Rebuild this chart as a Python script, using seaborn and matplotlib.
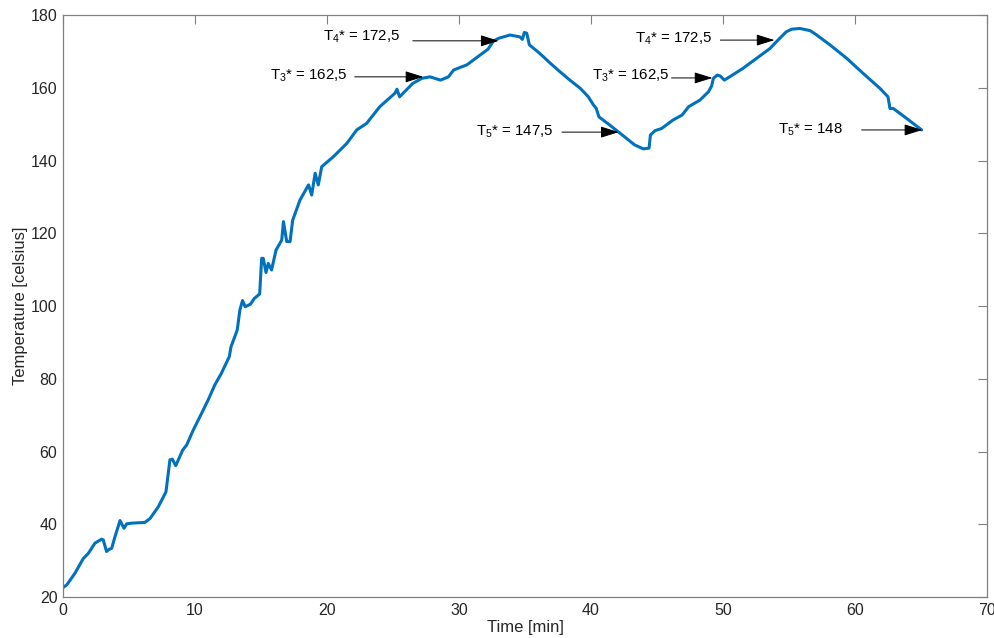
import matplotlib
matplotlib.use("Agg")
import matplotlib.pyplot as plt
import seaborn as sns
import pandas as pd

# ---- data ----
time_min = [0.0, 0.28, 0.9, 1.54, 1.92, 2.42, 2.93, 3.05, 3.3, 3.5, 3.69, 3.94, 4.32, 4.62,
            4.82, 5.2, 6.2, 6.6, 7.22, 7.8, 8.1, 8.28, 8.54, 9.07, 9.37, 9.87, 10.5, 11.0,
            11.5, 12.0, 12.6, 12.73, 13.2, 13.4, 13.6, 13.8, 14.2, 14.5, 14.9, 15.05, 15.17,
            15.38, 15.55, 15.8, 16.14, 16.57, 16.7, 16.95, 17.2, 17.4, 17.95, 18.6, 18.84,
            19.1, 19.34, 19.6, 20.5, 21.5, 22.25, 23.0, 24.0, 25.15, 25.3, 25.5, 26.5, 27.2,
            27.8, 28.6, 29.2, 29.6, 30.6, 31.6, 32.2, 32.6, 33.0, 33.86, 34.6, 34.8, 34.95,
            35.13, 35.33, 36.1, 36.9, 37.65, 38.4, 39.2, 39.8, 40.18, 40.4, 40.6, 41.4, 42.2,
            43.3, 43.96, 44.4, 44.5, 44.85, 45.35, 46.2, 46.9, 47.4, 48.25, 48.9, 49.14,
            49.27, 49.57, 49.8, 50.1, 50.5, 51.5, 52.55, 53.56, 54.3, 54.8, 55.2, 55.83,
            56.6, 57.1, 58.1, 59.37, 60.6, 61.9, 62.5, 62.65, 62.9, 63.9, 65.05]
temperature = [22.6, 23.3, 26.5, 30.6, 32.0, 34.8, 35.9, 35.7, 32.5, 33.1, 33.4, 36.6, 41.0,
               38.9, 40.1, 40.3, 40.5, 41.6, 44.8, 48.9, 57.7, 57.9, 56.1, 60.4, 61.8, 65.9,
               70.5, 74.2, 78.3, 81.5, 86.1, 88.8, 93.4, 98.9, 101.5, 99.8, 100.5, 102.1,
               103.3, 113.1, 113.1, 109.2, 111.7, 109.9, 115.4, 118.1, 123.2, 117.7, 117.7,
               123.6, 129.1, 133.3, 130.5, 136.5, 133.3, 138.3, 141.1, 144.7, 148.4, 150.2,
               154.8, 158.5, 159.6, 157.5, 161.2, 162.6, 163.0, 162.1, 163.0, 164.9, 166.3,
               169.0, 170.6, 172.8, 173.6, 174.5, 174.0, 173.3, 175.2, 175.0, 171.8, 169.5,
               166.8, 164.4, 162.1, 159.8, 157.5, 155.3, 154.3, 152.0, 149.8, 147.5, 144.3,
               143.2, 143.4, 147.0, 148.2, 148.8, 151.1, 152.5, 154.8, 156.6, 158.9, 160.5,
               162.6, 163.5, 163.2, 162.1, 163.0, 165.3, 168.1, 170.8, 173.6, 175.4, 176.1,
               176.3, 175.7, 174.5, 171.8, 168.1, 164.0, 159.8, 157.5, 154.3, 154.3, 151.6,
               148.4]

x_ticks = [0, 10, 20, 30, 40, 50, 60, 70]
y_ticks = [20, 40, 60, 80, 100, 120, 140, 160, 180]

ann_sub = ["3", "4", "5", "3", "4", "5"]
ann_value = ["162,5", "172,5", "147,5", "162,5", "172,5", "148"]
# annotation layout: text anchor (x, y), arrow tail x, arrow head x, arrow y
ann_text_x = [15.7, 19.7, 31.3, 40.1, 43.3, 54.2]
ann_text_y = [163.4, 173.9, 147.9, 163.2, 173.5, 148.5]
ann_tail_x = [22.1, 26.5, 37.8, 46.1, 49.8, 60.5]
ann_head_x = [27.3, 33.0, 42.1, 49.2, 53.9, 65.1]
ann_arrow_y = [163.0, 172.9, 147.8, 162.7, 173.1, 148.4]

df = pd.DataFrame({"Time [min]": time_min, "Temperature [celsius]": temperature})

sns.set_theme(style="white")
plt.rcParams["font.family"] = ["Liberation Sans", "DejaVu Sans"]
plt.rcParams["mathtext.fontset"] = "custom"
plt.rcParams["mathtext.rm"] = "Liberation Sans"
plt.rcParams["mathtext.it"] = "Liberation Sans"
plt.rcParams["mathtext.bf"] = "Liberation Sans"

fig = plt.figure(figsize=(9.94, 6.38), dpi=100)
ax = fig.add_axes([63 / 994, 1 - 597 / 638, 924 / 994, 582 / 638])

sns.lineplot(data=df, x="Time [min]", y="Temperature [celsius]", ax=ax,
             sort=False, estimator=None, color="#0072BD", linewidth=2.2)

ax.set_xlim(0, 70)
ax.set_ylim(20, 180)
ax.set_xticks(x_ticks)
ax.set_yticks(y_ticks)

axis_col = "#808080"
for s in ax.spines.values():
    s.set_color(axis_col)
    s.set_linewidth(0.9)
ax.tick_params(direction="in", length=6.5, width=0.8, color=axis_col,
               top=True, right=True, labelsize=11.5, labelcolor="#262626", pad=4)
ax.set_xlabel("Time [min]", fontsize=12, color="#262626", labelpad=2)
ax.set_ylabel("Temperature [celsius]", fontsize=12, color="#262626", labelpad=2)

for sub, val, tx, ty, x0, x1, ay in zip(ann_sub, ann_value, ann_text_x, ann_text_y,
                                        ann_tail_x, ann_head_x, ann_arrow_y):
    ax.text(tx, ty, r"T$_{\mathregular{" + sub + r"}}$* = " + val,
            fontsize=10.8, color="black", ha="left", va="center")
    ax.annotate("", xy=(x1, ay), xytext=(x0, ay),
                arrowprops=dict(arrowstyle="-|>,head_length=0.8,head_width=0.25",
                                color="black", lw=0.7, shrinkA=0, shrinkB=0,
                                mutation_scale=14))

fig.savefig("out.png", dpi=100)
